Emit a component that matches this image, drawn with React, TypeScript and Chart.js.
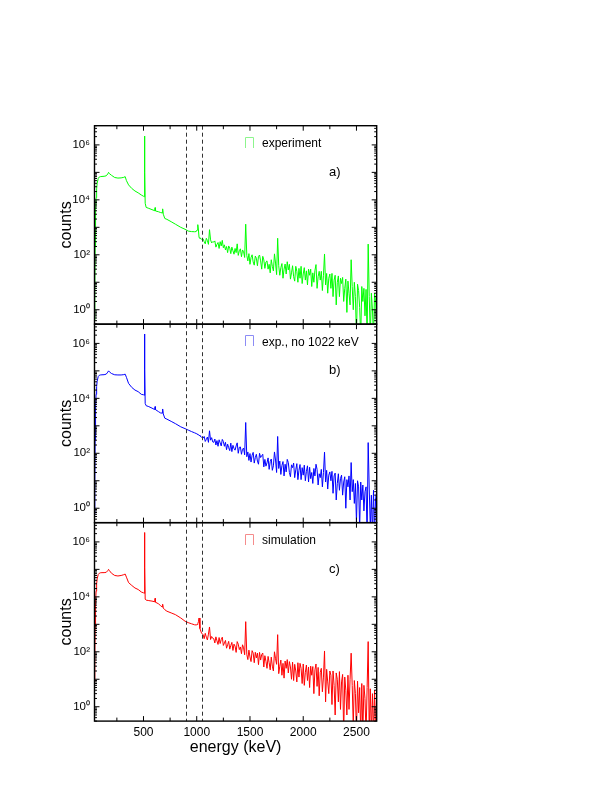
import React, { useEffect, useRef } from "react";
import { Chart, registerables } from "chart.js";

Chart.register(...registerables);

// ---------------- data ----------------
const ENERGY_LOW = [
  40, 43, 46, 50, 55, 60, 65, 75, 85, 95,
  110, 130, 150, 165, 172, 180, 200, 230, 260, 290,
  315, 328, 340, 360, 390, 420, 450, 480, 500, 506,
  509, 511, 513, 516, 525, 550, 580, 600, 606, 609,
  612, 640, 660, 675, 680, 686, 700, 720, 760, 800,
  850, 890, 920, 950, 980, 995, 1003, 1010, 1016, 1022,
  1030, 1045,
];

const ENERGY_TAIL = [
  1060, 1070, 1080, 1090, 1100, 1110, 1120, 1130, 1140, 1150,
  1160, 1170, 1180, 1190, 1200, 1210, 1220, 1230, 1240, 1250,
  1260, 1270, 1280, 1290, 1300, 1310, 1320, 1330, 1340, 1350,
  1360, 1370, 1380, 1390, 1400, 1410, 1420, 1430, 1440, 1450,
  1460, 1470, 1480, 1490, 1500, 1510, 1520, 1530, 1540, 1550,
  1560, 1570, 1580, 1590, 1600, 1610, 1620, 1630, 1640, 1650,
  1660, 1670, 1680, 1690, 1700, 1710, 1720, 1730, 1740, 1750,
  1760, 1770, 1780, 1790, 1800, 1810, 1820, 1830, 1840, 1850,
  1860, 1870, 1880, 1890, 1900, 1910, 1920, 1930, 1940, 1950,
  1960, 1970, 1980, 1990, 2000, 2010, 2020, 2030, 2040, 2050,
  2060, 2070, 2080, 2090, 2100, 2110, 2120, 2130, 2140, 2150,
  2160, 2170, 2180, 2190, 2200, 2210, 2220, 2230, 2240, 2250,
  2260, 2270, 2280, 2290, 2300, 2310, 2320, 2330, 2340, 2350,
  2360, 2370, 2380, 2390, 2400, 2410, 2420, 2430, 2440, 2450,
  2460, 2470, 2480, 2490, 2500, 2510, 2520, 2530, 2540, 2550,
  2560, 2570, 2580, 2590, 2600, 2610, 2620, 2630, 2640, 2650,
  2660, 2670, 2680, 2690,
];

// a) experiment
const EXPERIMENT_LOW = [
  0.4, 5, 200, 4000, 12000, 25000, 40000, 60000, 68000, 70000,
  71000, 72000, 75000, 88000, 100000, 90000, 78000, 65000, 62000, 63000,
  66000, 70000, 50000, 35000, 26000, 21000, 18000, 15000, 13500, 13000,
  300000, 2100000, 100000, 7500, 5300, 4900, 4400, 4100, 4000, 5200,
  3950, 3700, 3450, 3350, 4700, 3000, 2100, 1950, 1600, 1300,
  1000, 850, 730, 700, 690, 700, 800, 1250, 800, 420,
  400, 370,
];
const EXPERIMENT_TAIL = [
  380, 300, 250, 400, 330, 240, 820, 350, 270, 300,
  290, 320, 190, 240, 280, 170, 300, 210, 335, 180,
  230, 150, 200, 120, 210, 175, 110, 190, 140, 105,
  170, 120, 250, 95, 140, 165, 85, 150, 130, 80,
  1300, 95, 60, 110, 45, 80, 100, 55, 42, 90,
  75, 40, 88, 98, 60, 30, 88, 65, 32, 55,
  60, 30, 45, 22, 66, 38, 26, 108, 50, 19,
  400, 40, 18, 34, 48, 14, 30, 46, 20, 56,
  28, 45, 13, 22, 40, 16, 11, 38, 25, 10,
  32, 14, 38, 9, 20, 34, 12, 26, 8, 30,
  18, 30, 7, 22, 10, 27, 44, 6, 16, 25,
  12, 25, 5, 18, 107, 8, 21, 4, 14, 20,
  6, 21, 3, 12, 18, 1.5, 10, 17, 3, 14,
  9, 15, 2, 6, 13, 0.8, 11, 4, 1.5, 66,
  7, 1, 10, 3, 0.1, 8.5, 5, 1.2, 0.1, 7,
  2, 6, 0.6, 5.5, 0.1, 245, 3, 0.1, 4, 1,
  0.1, 4, 2, 0.1,
];

// b) experiment without 1022 keV
const NO1022_LOW = [
  0.6, 8, 300, 5000, 14000, 27000, 42000, 62000, 69000, 71000,
  72000, 72500, 76000, 90000, 100000, 92000, 80000, 72000, 71000, 71000,
  73000, 76000, 58000, 35000, 25000, 20000, 17500, 14000, 13500, 13000,
  320000, 2200000, 110000, 6500, 5400, 5000, 4400, 4000, 3950, 5000,
  3900, 3300, 2950, 2900, 4100, 2700, 1900, 1750, 1450, 1200,
  920, 790, 700, 620, 555, 525, 505, 485, 470, 455,
  430, 385,
];
const NO1022_TAIL = [
  360, 410, 270, 320, 390, 250, 660, 300, 370, 260,
  250, 330, 200, 290, 180, 310, 240, 185, 320, 270,
  180, 250, 135, 215, 160, 125, 235, 115, 195, 150,
  130, 185, 240, 100, 165, 170, 92, 140, 155, 88,
  1320, 75, 112, 55, 98, 48, 85, 108, 44, 70,
  92, 52, 40, 100, 70, 82, 92, 32, 60, 34,
  45, 68, 26, 50, 62, 24, 35, 112, 57, 20,
  410, 28, 52, 17, 36, 50, 15, 40, 21, 60,
  46, 20, 14, 38, 30, 44, 13, 25, 42, 11,
  24, 39, 11, 30, 16, 37, 10, 22, 35, 9,
  31, 12, 20, 8, 28, 15, 40, 26, 7, 18,
  13, 26, 6, 20, 110, 9, 24, 5, 16, 21,
  10, 22, 3.5, 15, 19, 2, 8, 18, 4.5, 12,
  16, 3, 9, 14, 1, 11, 6, 15, 2, 46,
  4, 11, 1.5, 8, 0.3, 10, 6, 0.2, 9, 2,
  7, 0.8, 4, 6, 0.1, 245, 5, 0.2, 3, 0.1,
  4.5, 0.1, 2.5, 4,
];

// c) simulation
const SIMULATION_LOW = [
  8, 60, 800, 6000, 16000, 30000, 45000, 65000, 72000, 75000,
  76000, 76000, 78000, 90000, 100000, 90000, 72000, 60000, 57500, 60000,
  64000, 67600, 52000, 33000, 26000, 21000, 18500, 15000, 14000, 13500,
  350000, 2200000, 120000, 8200, 7600, 7300, 7000, 6700, 6600, 8800,
  6400, 5600, 4800, 4300, 5400, 3900, 3400, 3000, 2600, 2250,
  1700, 1300, 1150, 1050, 960, 950, 980, 1050, 1250, 1700,
  700, 480,
];
const SIMULATION_TAIL = [
  420, 300, 470, 340, 270, 440, 800, 280, 360, 310,
  300, 210, 350, 250, 185, 330, 200, 280, 340, 170,
  210, 260, 135, 180, 240, 125, 170, 220, 112, 190,
  160, 95, 235, 190, 120, 150, 85, 180, 140, 78,
  1250, 80, 52, 115, 65, 44, 110, 90, 40, 96,
  60, 90, 34, 95, 50, 80, 90, 28, 72, 45,
  25, 68, 40, 22, 64, 30, 20, 100, 56, 35,
  420, 16, 30, 50, 14, 38, 11, 46, 25, 52,
  17, 44, 28, 10, 42, 9, 35, 20, 8, 40,
  12, 38, 25, 7, 36, 6, 18, 33, 9, 28,
  5, 30, 14, 29, 3, 22, 36, 5.5, 27, 2.5,
  18, 25, 3.5, 12, 107, 1.5, 23, 8, 3, 20,
  14, 1.2, 20, 6, 0.5, 17, 10, 1.5, 19, 0.8,
  8, 15, 0.1, 12, 4, 0.5, 14, 0.8, 10, 89,
  6, 0.2, 9, 3, 0.1, 8.5, 0.6, 5, 0.1, 7,
  0.1, 6, 2, 0.1, 5, 235, 0.1, 4.5, 0.1, 3,
  0.1, 4, 0.1, 3.5,
];

const X_TICKS = [500, 1000, 1500, 2000, 2500];
const X_TICKS_MINOR = [250, 500, 750, 1000, 1250, 1500, 1750, 2000, 2250, 2500];
const Y_TICKS = [1, 100, 10000, 1000000];
const Y_TICK_LABELS = ["10\u2070", "10\u00B2", "10\u2074", "10\u2076"];
const MARKER_ENERGIES = [897, 1047];

const LEGEND_LABELS = ["experiment", "exp., no 1022 keV", "simulation"];
const PANEL_TAGS = ["a)", "b)", "c)"];
const SERIES_COLORS = ["#00ff00", "#0000ff", "#ff0000"];
const SYMBOL_COLORS = ["#8cf58c", "#8c8cf5", "#f58c8c"];
const SERIES_LOW = [EXPERIMENT_LOW, NO1022_LOW, SIMULATION_LOW];
const SERIES_TAIL = [EXPERIMENT_TAIL, NO1022_TAIL, SIMULATION_TAIL];

// ---------------- layout ----------------
const W = 612;
const H = 792;
const PLOT_LEFT = 94.5;
const PLOT_RIGHT = 376.7;
const PANEL_TOPS = [125.7, 324.2, 522.7];
const PANEL_H = 198.4;
const TAG_OFFSET = 46.6;
const FONT = "'Liberation Sans', Arial, Helvetica, sans-serif";

Chart.defaults.font.family = FONT;
Chart.defaults.color = "#000";

function makeFramePlugin(index: number) {
  return {
    id: "frame" + index,
    afterDatasetsDraw(chart: any) {
      const { ctx, chartArea: a, scales } = chart;
      const xs = scales.x;
      const ys = scales.y;
      ctx.save();
      // dashed markers
      ctx.strokeStyle = "#333";
      ctx.lineWidth = 1;
      ctx.setLineDash([4, 3]);
      for (const e of MARKER_ENERGIES) {
        const px = Math.round(xs.getPixelForValue(e)) + 0.5;
        ctx.beginPath();
        ctx.moveTo(px, a.top);
        ctx.lineTo(px, a.bottom);
        ctx.stroke();
      }
      ctx.setLineDash([]);
      ctx.strokeStyle = "#000";
      // x ticks (inward, top and bottom)
      ctx.lineWidth = 1;
      for (const v of X_TICKS_MINOR) {
        const len = v % 500 === 0 ? 5 : 3.5;
        const px = xs.getPixelForValue(v);
        ctx.beginPath();
        ctx.moveTo(px, a.bottom);
        ctx.lineTo(px, a.bottom - len);
        ctx.moveTo(px, a.top);
        ctx.lineTo(px, a.top + len);
        ctx.stroke();
      }
      // y ticks (inward, left and right)
      for (let d = -1; d <= 6; d++) {
        for (let m = 1; m <= 9; m++) {
          const v = m * Math.pow(10, d);
          if (v < ys.min || v > ys.max) continue;
          const len = m === 1 ? 5 : 2.5;
          const py = ys.getPixelForValue(v);
          ctx.beginPath();
          ctx.moveTo(a.left, py);
          ctx.lineTo(a.left + len, py);
          ctx.moveTo(a.right, py);
          ctx.lineTo(a.right - len, py);
          ctx.stroke();
        }
      }
      // frame
      ctx.lineWidth = 1.4;
      ctx.strokeRect(a.left, a.top, a.right - a.left, a.bottom - a.top);
      // legend
      const sx0 = Math.round(a.left + 150.5);
      const sx1 = sx0 + 8;
      const sy0 = Math.round(a.top + 11);
      const sy1 = sy0 + 11;
      ctx.strokeStyle = SYMBOL_COLORS[index];
      ctx.lineWidth = 1;
      ctx.beginPath();
      ctx.moveTo(sx0 + 0.5, sy1);
      ctx.lineTo(sx0 + 0.5, sy0 + 0.5);
      ctx.lineTo(sx1 + 0.5, sy0 + 0.5);
      ctx.lineTo(sx1 + 0.5, sy1);
      ctx.stroke();
      ctx.fillStyle = "#000";
      ctx.font = "12px " + FONT;
      ctx.textAlign = "left";
      ctx.textBaseline = "alphabetic";
      ctx.fillText(LEGEND_LABELS[index], a.left + 167.5, a.top + 21.6);
      ctx.font = "13px " + FONT;
      ctx.textBaseline = "middle";
      ctx.fillText(PANEL_TAGS[index], a.left + 234.5, a.top + TAG_OFFSET);
      ctx.restore();
    },
  };
}

function PanelChart({ index }: { index: number }) {
  const ref = useRef<HTMLCanvasElement | null>(null);
  useEffect(() => {
    if (!ref.current) return;
    const isBottom = index === 2;
    const top = PANEL_TOPS[index];
    const bottom = top + PANEL_H;
    const energies = [...ENERGY_LOW, ...ENERGY_TAIL];
    const counts = [...SERIES_LOW[index], ...SERIES_TAIL[index]];
    const points = energies.map((e, i) => ({ x: e, y: counts[i] }));
    const chart = new Chart(ref.current, {
      type: "line",
      data: {
        datasets: [
          {
            data: points,
            borderColor: SERIES_COLORS[index],
            borderWidth: 1,
            pointRadius: 0,
            fill: false,
            tension: 0,
          },
        ],
      },
      options: {
        responsive: false,
        animation: false,
        devicePixelRatio: 1,
        layout: {
          padding: {
            left: 0,
            right: W - PLOT_RIGHT,
            top: top,
            bottom: isBottom ? 0 : H - bottom,
          },
        },
        plugins: {
          legend: { display: false },
          tooltip: { enabled: false },
        },
        scales: {
          x: {
            type: "linear",
            min: 40,
            max: 2690,
            grid: { display: false, drawTicks: false },
            border: { display: false },
            ticks: {
              display: isBottom,
              color: "#000",
              font: { size: 12, family: FONT },
              maxRotation: 0,
              autoSkip: false,
              padding: 4,
              callback: (v: any) => String(v),
            },
            afterBuildTicks: (s: any) => {
              s.ticks = X_TICKS.map((v) => ({ value: v }));
            },
            afterFit: (s: any) => {
              s.height = isBottom ? H - bottom : 0;
            },
            title: {
              display: isBottom,
              text: "energy (keV)",
              color: "#000",
              font: { size: 16, family: FONT },
              padding: { top: 0, bottom: 34.4 },
            },
          },
          y: {
            type: "logarithmic",
            min: 0.3,
            max: 5000000,
            position: "left",
            grid: { display: false, drawTicks: false },
            border: { display: false },
            ticks: {
              color: "#000",
              font: { size: 11.5, family: FONT },
              padding: 4.5,
              autoSkip: false,
              callback: (v: any) => {
                const k = Y_TICKS.indexOf(Number(v));
                return k >= 0 ? Y_TICK_LABELS[k] : "";
              },
            },
            afterBuildTicks: (s: any) => {
              s.ticks = Y_TICKS.map((v) => ({ value: v }));
            },
            afterFit: (s: any) => {
              s.width = PLOT_LEFT;
            },
            title: {
              display: true,
              text: "counts",
              color: "#000",
              font: { size: 16, family: FONT },
              padding: { top: 57.4, bottom: 0 },
            },
          },
        },
      },
      plugins: [makeFramePlugin(index)],
    } as any);
    return () => chart.destroy();
  }, [index]);
  return (
    <canvas
      ref={ref}
      width={W}
      height={H}
      style={{ position: "absolute", left: 0, top: 0, width: W, height: H }}
    />
  );
}

export default function App() {
  return (
    <div
      style={{
        position: "absolute",
        left: 0,
        top: 0,
        width: W,
        height: H,
        background: "#fff",
      }}
    >
      {[0, 1, 2].map((i) => (
        <PanelChart key={i} index={i} />
      ))}
    </div>
  );
}
